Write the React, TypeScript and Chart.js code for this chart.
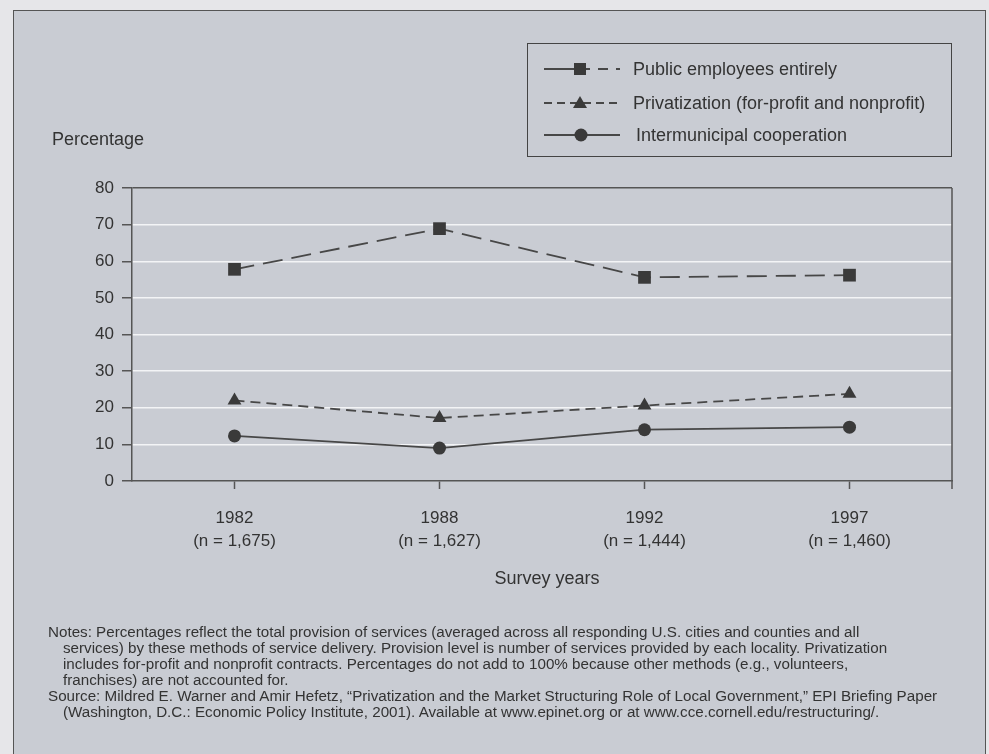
import React, { useEffect, useRef } from "react";
import { Chart, registerables } from "chart.js";

Chart.register(...registerables);

const years = ["1982", "1988", "1992", "1997"];
const sampleSizes = ["(n = 1,675)", "(n = 1,627)", "(n = 1,444)", "(n = 1,460)"];
const publicEmployees = [57.8, 68.9, 55.6, 56.2];
const privatization = [22.0, 17.2, 20.6, 23.8];
const intermunicipal = [12.3, 9.0, 14.0, 14.7];
const seriesNames = [
  "Public employees entirely",
  "Privatization (for-profit and nonprofit)",
  "Intermunicipal cooperation",
];
const yMin = 0;
const yMax = 80;
const yStep = 10;

const noteLines = [
  { text: "Notes: Percentages reflect the total provision of services (averaged across all responding U.S. cities and counties and all", indent: false },
  { text: "services) by these methods of service delivery. Provision level is number of services provided by each locality. Privatization", indent: true },
  { text: "includes for-profit and nonprofit contracts. Percentages do not add to 100% because other methods (e.g., volunteers,", indent: true },
  { text: "franchises) are not accounted for.", indent: true },
  { text: "Source: Mildred E. Warner and Amir Hefetz, \u201CPrivatization and the Market Structuring Role of Local Government,\u201D EPI Briefing Paper", indent: false },
  { text: "(Washington, D.C.: Economic Policy Institute, 2001). Available at www.epinet.org or at www.cce.cornell.edu/restructuring/.", indent: true },
];

const FONT = '"Liberation Sans", Arial, Helvetica, sans-serif';
const INK = "#3a3a3a";
const LINE = "#474747";
const TEXT = "#333333";
const AXIS = "#555555";

const frameLines = {
  id: "frameLines",
  beforeDatasetsDraw(chart: any) {
    const { ctx, chartArea } = chart;
    ctx.save();
    ctx.strokeStyle = AXIS;
    ctx.lineWidth = 1.5;
    ctx.beginPath();
    ctx.moveTo(chartArea.right, chartArea.top);
    ctx.lineTo(chartArea.right, chartArea.bottom + 8);
    ctx.stroke();
    ctx.restore();
  },
};

function LegendSample({ kind }: { kind: number }) {
  const cy = 10;
  if (kind === 0) {
    return (
      <svg width={80} height={20} style={{ position: "absolute", left: 16, top: -10 }}>
        <line x1={0} y1={cy} x2={36} y2={cy} stroke={LINE} strokeWidth={1.8} />
        <line x1={36} y1={cy} x2={76} y2={cy} stroke={LINE} strokeWidth={1.8} strokeDasharray="10 8" />
        <rect x={30} y={cy - 6} width={12} height={12} fill={INK} />
      </svg>
    );
  }
  if (kind === 1) {
    return (
      <svg width={80} height={20} style={{ position: "absolute", left: 16, top: -10 }}>
        <line x1={0} y1={cy} x2={76} y2={cy} stroke={LINE} strokeWidth={1.8} strokeDasharray="8 5" />
        <polygon points={`36,${cy - 7} 43,${cy + 5} 29,${cy + 5}`} fill={INK} />
      </svg>
    );
  }
  return (
    <svg width={80} height={20} style={{ position: "absolute", left: 16, top: -10 }}>
      <line x1={0} y1={cy} x2={76} y2={cy} stroke={LINE} strokeWidth={1.8} />
      <circle cx={37} cy={cy} r={6.5} fill={INK} />
    </svg>
  );
}

export default function App() {
  const canvasRef = useRef<HTMLCanvasElement | null>(null);

  useEffect(() => {
    if (!canvasRef.current) return;
    const chart = new Chart(canvasRef.current, {
      type: "line",
      data: {
        labels: years.map((y, i) => [y, sampleSizes[i]]),
        datasets: [
          {
            label: seriesNames[0],
            data: publicEmployees,
            borderColor: LINE,
            borderWidth: 1.8,
            borderDash: [20, 9],
            pointStyle: "rect",
            pointRadius: 9,
            pointBackgroundColor: INK,
            pointBorderColor: INK,
            pointBorderWidth: 0,
            tension: 0,
          },
          {
            label: seriesNames[1],
            data: privatization,
            borderColor: LINE,
            borderWidth: 1.8,
            borderDash: [10, 6],
            pointStyle: "triangle",
            pointRadius: 8,
            pointBackgroundColor: INK,
            pointBorderColor: INK,
            pointBorderWidth: 0,
            tension: 0,
          },
          {
            label: seriesNames[2],
            data: intermunicipal,
            borderColor: LINE,
            borderWidth: 1.8,
            pointStyle: "circle",
            pointRadius: 6.5,
            pointBackgroundColor: INK,
            pointBorderColor: INK,
            pointBorderWidth: 0,
            tension: 0,
          },
        ],
      },
      options: {
        animation: false,
        responsive: true,
        maintainAspectRatio: false,
        layout: { padding: { left: 0, top: 188, right: 37, bottom: 183 } },
        plugins: {
          legend: { display: false },
          tooltip: { enabled: false },
        },
        scales: {
          x: {
            offset: true,
            afterFit: (s: any) => {
              s.height = 90;
            },
            grid: {
              offset: false,
              drawOnChartArea: false,
              drawTicks: true,
              tickLength: 8,
              tickColor: AXIS,
              tickWidth: 1.5,
            },
            border: { display: true, color: AXIS, width: 1.5 },
            ticks: {
              color: TEXT,
              font: { family: FONT, size: 17, lineHeight: 1.35 },
              padding: 18,
              maxRotation: 0,
            },
          },
          y: {
            min: yMin,
            max: yMax,
            afterFit: (s: any) => {
              s.width = 132;
            },
            grid: {
              color: (c: any) =>
                c.tick && c.tick.value === yMax
                  ? AXIS
                  : c.tick && c.tick.value === yMin
                  ? "rgba(0,0,0,0)"
                  : "#f3f4f6",
              lineWidth: 1.5,
              drawTicks: true,
              tickLength: 10,
              tickColor: AXIS,
              tickWidth: 1.5,
            },
            border: { display: true, color: AXIS, width: 1.5 },
            ticks: {
              stepSize: yStep,
              color: TEXT,
              font: { family: FONT, size: 17 },
              padding: 8,
            },
          },
        },
      },
      plugins: [frameLines],
    });
    return () => chart.destroy();
  }, []);

  return (
    <div
      style={{
        position: "absolute",
        left: 0,
        top: 0,
        width: 989,
        height: 754,
        background: "#e6e6e9",
        overflow: "hidden",
        fontFamily: FONT,
        color: TEXT,
      }}
    >
      <div
        style={{
          position: "absolute",
          left: 13,
          top: 10,
          width: 973,
          height: 780,
          boxSizing: "border-box",
          border: "1.5px solid #555",
          background: "#c9ccd3",
        }}
      />
      <div style={{ position: "absolute", left: 0, top: 0, width: 989, height: 754 }}>
        <canvas ref={canvasRef} />
      </div>

      <div
        style={{
          position: "absolute",
          left: 52,
          top: 130,
          fontSize: 18,
          lineHeight: "18px",
          whiteSpace: "nowrap",
        }}
      >
        Percentage
      </div>

      <div
        style={{
          position: "absolute",
          left: 447,
          top: 569,
          width: 200,
          textAlign: "center",
          fontSize: 18,
          lineHeight: "18px",
          whiteSpace: "nowrap",
        }}
      >
        Survey years
      </div>

      <div
        style={{
          position: "absolute",
          left: 527,
          top: 43,
          width: 425,
          height: 114,
          boxSizing: "border-box",
          border: "1.5px solid #444",
        }}
      >
        {seriesNames.map((name, i) => {
          const cy = [25, 59, 91][i];
          return (
            <div key={name} style={{ position: "absolute", left: 0, top: cy, width: "100%" }}>
              <LegendSample kind={i} />
              <div
                style={{
                  position: "absolute",
                  left: i === 2 ? 108 : 105,
                  top: -10,
                  fontSize: 18,
                  lineHeight: "20px",
                  whiteSpace: "nowrap",
                }}
              >
                {name}
              </div>
            </div>
          );
        })}
      </div>

      <div style={{ position: "absolute", left: 48, top: 624, fontSize: 15.2, lineHeight: "16px" }}>
        {noteLines.map((l, i) => (
          <div key={i} style={{ whiteSpace: "nowrap", paddingLeft: l.indent ? 15 : 0 }}>
            {l.text}
          </div>
        ))}
      </div>
    </div>
  );
}
